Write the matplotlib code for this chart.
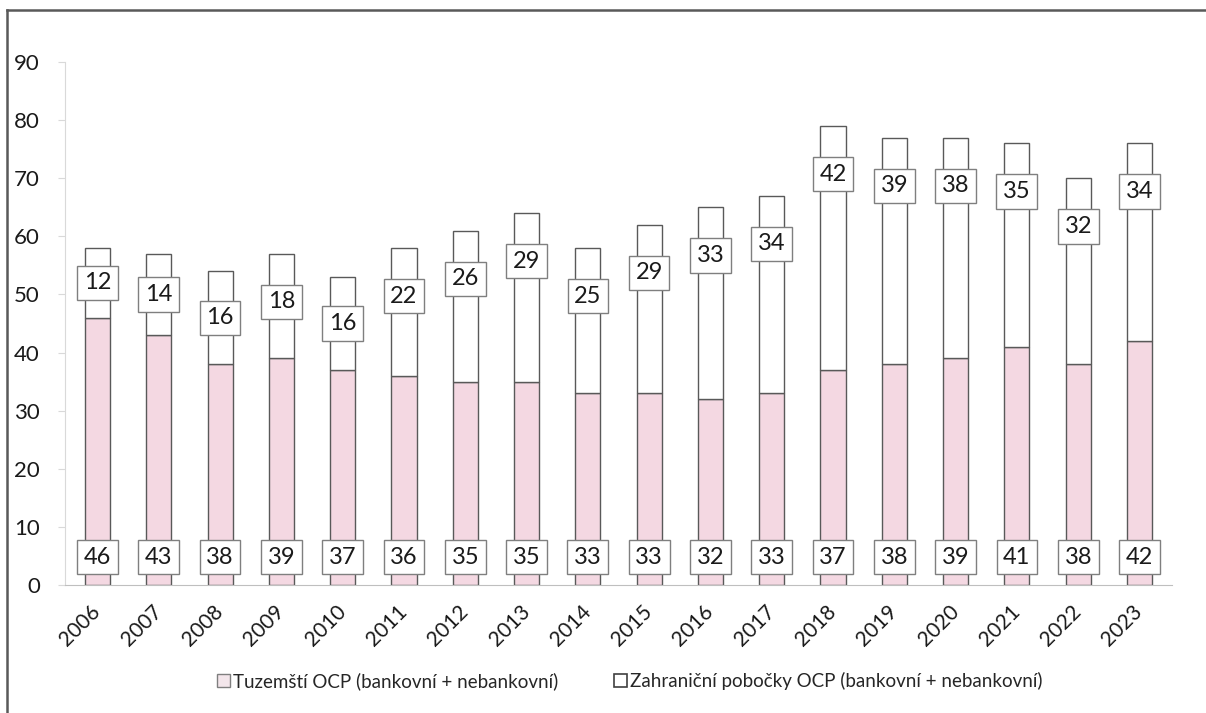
import matplotlib
matplotlib.use('Agg')
import matplotlib.pyplot as plt
from matplotlib.patches import Patch
from matplotlib.lines import Line2D
import numpy as np

years = ['2006', '2007', '2008', '2009', '2010', '2011', '2012', '2013', '2014',
         '2015', '2016', '2017', '2018', '2019', '2020', '2021', '2022', '2023']
domestic = [46, 43, 38, 39, 37, 36, 35, 35, 33, 33, 32, 33, 37, 38, 39, 41, 38, 42]
foreign = [12, 14, 16, 18, 16, 22, 26, 29, 25, 29, 33, 34, 42, 39, 38, 35, 32, 34]
legend_labels = ['Tuzemští OCP (bankovní + nebankovní)',
                 'Zahraniční pobočky OCP (bankovní + nebankovní)']

plt.rcParams['font.family'] = ['Lato', 'DejaVu Sans']

pink = '#f4d8e2'
edge = '#595959'
text_col = '#1a1a1a'

fig = plt.figure(figsize=(12.06, 7.13), dpi=100)
ax = fig.add_axes([65 / 1206, 1 - 585 / 713, (1172 - 65) / 1206, (585 - 62) / 713])

x = np.arange(len(years))
w = 0.41
ax.bar(x, domestic, w, color=pink, edgecolor=edge, linewidth=1.0, zorder=2)
ax.bar(x, foreign, w, bottom=domestic, color='white', edgecolor=edge, linewidth=1.0, zorder=2)

box = dict(boxstyle='square,pad=0.28', facecolor='white', edgecolor='#7f7f7f', linewidth=1.0)
for i in range(len(years)):
    total = domestic[i] + foreign[i]
    mid = domestic[i] + foreign[i] / 2
    ax.text(x[i], 4.8, str(domestic[i]), ha='center', va='center', fontsize=17,
            color=text_col, bbox=box, zorder=3)
    ax.text(x[i], max(mid, total - 8.3), str(foreign[i]), ha='center', va='center',
            fontsize=17, color=text_col, bbox=box, zorder=3)

ax.set_xlim(-0.53, 17.53)
ax.set_ylim(0, 90)
ax.set_yticks(range(0, 91, 10))
ax.set_xticks(x)
ax.set_xticklabels(years, rotation=45, ha='right', va='center', rotation_mode='anchor')

for s in ['top', 'right']:
    ax.spines[s].set_visible(False)
ax.spines['left'].set_color('#d9d9d9')
ax.spines['bottom'].set_color('#bfbfbf')
ax.tick_params(axis='y', length=5, color='#d9d9d9', pad=13, labelsize=16, labelcolor=text_col)
ax.tick_params(axis='x', length=0, pad=17, labelsize=15, labelcolor=text_col)

handles = [Patch(facecolor='#f3e6eb', edgecolor='#7f7f7f', linewidth=1.0),
           Patch(facecolor='white', edgecolor='#404040', linewidth=1.2)]
fig.legend(handles, legend_labels, loc='center', bbox_to_anchor=(0.522, 1 - 681 / 713),
           ncol=2, frameon=False, fontsize=13.5, labelcolor='#262626',
           handlelength=0.7, handleheight=0.7, handletextpad=0.15, columnspacing=3.0)

# chart frame (only top and left edges are visible in the crop)
fig.add_artist(Line2D([7 / 1206, 1], [1 - 10 / 713, 1 - 10 / 713], transform=fig.transFigure,
                      color='#595959', linewidth=1.8))
fig.add_artist(Line2D([7 / 1206, 7 / 1206], [0, 1 - 10 / 713], transform=fig.transFigure,
                      color='#595959', linewidth=1.8))

fig.savefig('out.png', dpi=100)
